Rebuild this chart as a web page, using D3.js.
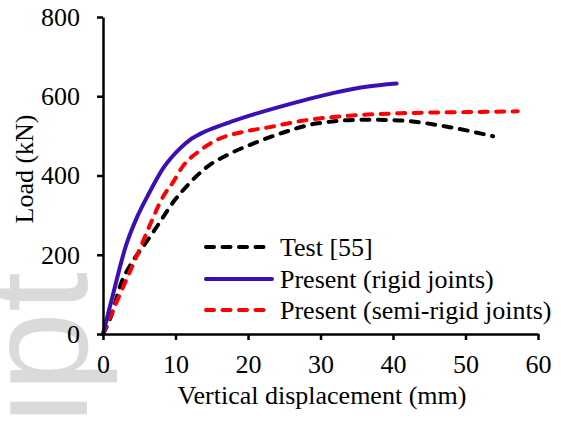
<!DOCTYPE html>
<html><head><meta charset="utf-8">
<script src="https://cdn.jsdelivr.net/npm/d3@7"></script>
<style>html,body{margin:0;padding:0;background:#fff}svg{display:block}
svg text.serif{font-family:"Liberation Serif","Times New Roman",Times,serif;}
</style>
</head><body>
<script>
// ---- data ----
const testX = [0, 1.1, 2.5, 3.9, 5.5, 7.1, 9.9, 12.0, 14.3, 17.5, 21.2, 25.3, 29.4, 36.3, 40.9, 47.8, 53.8];
const testY = [0, 44, 128, 178, 220, 262, 338, 382, 421, 455, 484, 511, 531, 541, 539, 522, 499];
const rigidX = [0, 1.3, 3.2, 4.7, 6.2, 8.4, 10.6, 12.0, 13.4, 15.6, 17.9, 20.2, 25.3, 31.7, 36.3, 40.5];
const rigidY = [0, 94, 225, 295, 350, 421, 468, 490, 505, 522, 537, 551, 578, 608, 624, 632];
const semiX = [0, 2.0, 3.6, 5.2, 6.4, 8.4, 9.7, 11.0, 13.3, 15.6, 19.3, 23.0, 27.1, 34.0, 40.9, 50.1, 57.2];
const semiY = [0, 86, 153, 220, 272, 350, 384, 423, 462, 489, 510, 522, 537, 551, 557, 560, 562];
const xTicks = [0, 10, 20, 30, 40, 50, 60];
const yTicks = [0, 200, 400, 600, 800];
const seriesNames = ["Test [55]", "Present (rigid joints)", "Present (semi-rigid joints)"];
const seriesColors = ["#000000", "#3a10b4", "#ff0000"];
const seriesDash = ["8,8.5", null, "8,8.5"];
const xTitle = "Vertical displacement (mm)";
const yTitle = "Load (kN)";

const W = 561, H = 421;
const svg = d3.select("body").append("svg").attr("width", W).attr("height", H);

// watermark
svg.append("text").attr("transform", "translate(87,272) rotate(-90)")
  .attr("text-anchor", "end").style("font-family", "'Liberation Sans', Arial, sans-serif")
  .style("font-size", "144px").attr("fill", "#dadada").text("ript");

const x = d3.scaleLinear().domain([0, 60]).range([103, 538]);
const y = d3.scaleLinear().domain([0, 800]).range([334, 17]);

const series = [
  {xs: testX, ys: testY},
  {xs: rigidX, ys: rigidY},
  {xs: semiX, ys: semiY}
];

const line = d3.line().x(d => x(d[0])).y(d => y(d[1])).curve(d3.curveMonotoneX);

[0, 2, 1].forEach(i => {
  const s = series[i];
  const pts = s.xs.map((v, k) => [v, s.ys[k]]);
  const p = svg.append("path").datum(pts).attr("d", line)
    .attr("fill", "none").attr("stroke", seriesColors[i]).attr("stroke-width", 4)
    .attr("stroke-linecap", "round").attr("stroke-linejoin", "round");
  if (seriesDash[i]) p.attr("stroke-dasharray", seriesDash[i]);
});

// axes
const xAxis = svg.append("g").attr("transform", "translate(0,334)")
  .call(d3.axisBottom(x).tickValues(xTicks).tickSize(6).tickSizeOuter(0).tickPadding(14.5));
const yAxis = svg.append("g").attr("transform", "translate(103,0)")
  .call(d3.axisLeft(y).tickValues(yTicks).tickSize(6).tickSizeOuter(0).tickPadding(17));
[xAxis, yAxis].forEach(g => {
  g.attr("font-family", null).attr("font-size", null);
  g.selectAll("path,line").attr("stroke", "#000").attr("stroke-width", 2.5);
  g.selectAll("text").classed("serif", true).style("font-size", "26px").attr("fill", "#000");
});

// axis titles
svg.append("text").classed("serif", true).attr("x", 322).attr("y", 404).attr("text-anchor", "middle")
  .style("font-size", "26px").text(xTitle);
svg.append("text").classed("serif", true).attr("transform", "translate(33,169) rotate(-90)").attr("text-anchor", "middle")
  .style("font-size", "26px").text(yTitle);

// legend
const legY = [247, 279, 310];
seriesNames.forEach((name, i) => {
  const l = svg.append("line").attr("x1", 206).attr("x2", 272).attr("y1", legY[i]).attr("y2", legY[i])
    .attr("stroke", seriesColors[i]).attr("stroke-width", 4).attr("stroke-linecap", "round");
  if (seriesDash[i]) l.attr("stroke-dasharray", seriesDash[i]);
  svg.append("text").classed("serif", true).attr("x", 280).attr("y", legY[i] + 8.5)
    .style("font-size", "26px").text(name);
});
</script>
</body></html>
